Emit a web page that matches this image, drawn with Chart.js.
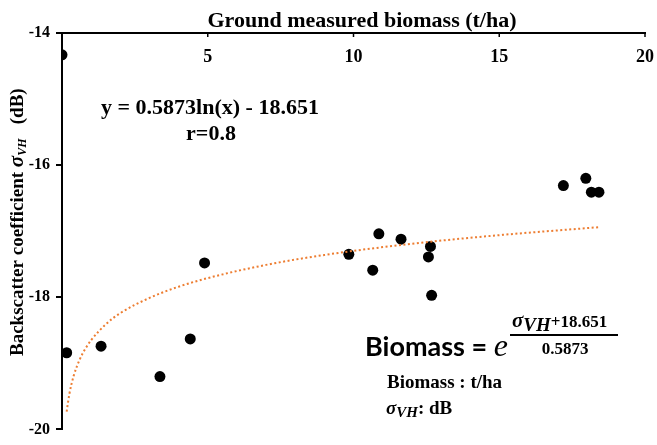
<!DOCTYPE html>
<html>
<head>
<meta charset="utf-8">
<script src="https://cdn.jsdelivr.net/npm/chart.js@4.4.0/dist/chart.umd.min.js"></script>
<style>
  html, body { margin: 0; padding: 0; background: #fff; }
  canvas { display: block; }
</style>
</head>
<body>
<canvas id="myChart" width="657" height="445"></canvas>
<script>
'use strict';

// ground measured biomass (t/ha) against backscatter sigma VH (dB)
let biomass = [0.0, 0.16, 1.34, 3.36, 4.40, 4.89, 9.84, 10.66, 10.87, 11.63, 12.57, 12.64, 12.68, 17.20, 17.97, 18.16, 18.42];
let sigma_vh = [-14.33, -18.84, -18.74, -19.20, -18.63, -17.48, -17.35, -17.59, -17.04, -17.12, -17.39, -17.23, -17.97, -16.31, -16.20, -16.41, -16.41];

// points read along the dotted log trendline
let trend_x = [0.16, 0.25, 0.4, 0.6, 0.8, 1, 1.5, 2, 3, 4, 5, 7, 9, 12, 15, 18.4];
let trend_y = [-19.73, -19.47, -19.19, -18.95, -18.78, -18.65, -18.41, -18.24, -18.01, -17.84, -17.71, -17.51, -17.36, -17.19, -17.06, -16.94];

let x_ticks = [5, 10, 15, 20];
let y_ticks = [-14, -16, -18, -20];

let x_title = 'Ground measured biomass (t/ha)';
let equation = 'y = 0.5873ln(x) - 18.651';
let r_text = 'r=0.8';

const SERIF = '"Liberation Serif", "Times New Roman", serif';

let scatter_pts = [];
for (let i = 0; i < biomass.length; i++) {
  scatter_pts.push({x: biomass[i], y: sigma_vh[i]});
}
let trend_pts = [];
for (let i = 0; i < trend_x.length; i++) {
  trend_pts.push({x: trend_x[i], y: trend_y[i]});
}

// draws pieces of text one after the other, returns the width
function draw_runs(ctx, runs, x, y, measureOnly) {
  let w = 0;
  for (let i = 0; i < runs.length; i++) {
    ctx.font = runs[i].f;
    if (!measureOnly) ctx.fillText(runs[i].t, x + w, y + (runs[i].dy || 0));
    w += ctx.measureText(runs[i].t).width;
  }
  return w;
}

let extras = {
  id: 'extras',
  afterDraw(chart) {
    let ctx = chart.ctx;
    let xs = chart.scales.x;
    let area = chart.chartArea;
    ctx.save();
    ctx.fillStyle = '#000';
    ctx.strokeStyle = '#000';

    // x title, a bit right of centre like the original
    ctx.font = 'bold 22px ' + SERIF;
    ctx.textAlign = 'center';
    ctx.textBaseline = 'alphabetic';
    ctx.fillText(x_title, 362, 27);

    // x tick labels sit under the top axis, inside the plot
    ctx.font = 'bold 18px ' + SERIF;
    ctx.textBaseline = 'middle';
    ctx.lineWidth = 1.5;
    x_ticks.forEach(v => {
      let px = xs.getPixelForValue(v);
      ctx.fillText(String(v), px, area.top + 24);
      ctx.beginPath();
      ctx.moveTo(px, area.top);
      ctx.lineTo(px, area.top + 4);
      ctx.stroke();
    });

    // y title with subscript
    ctx.save();
    ctx.translate(18, (area.top + area.bottom) / 2 - 9);
    ctx.rotate(-Math.PI / 2);
    ctx.textAlign = 'left';
    ctx.textBaseline = 'middle';
    let yt = [
      {t: 'Backscatter coefficient ', f: 'bold 19px ' + SERIF},
      {t: 'σ', f: 'italic bold 21px ' + SERIF},
      {t: 'VH', f: 'italic bold 12px ' + SERIF, dy: 5},
      {t: '   (dB)', f: 'bold 19px ' + SERIF}
    ];
    let tw = draw_runs(ctx, yt, 0, 0, true);
    draw_runs(ctx, yt, -tw / 2, 0, false);
    ctx.restore();

    // regression text
    ctx.textAlign = 'center';
    ctx.textBaseline = 'alphabetic';
    ctx.font = 'bold 22px ' + SERIF;
    ctx.fillText(equation, 210, 114);
    ctx.fillText(r_text, 211, 140);

    // inverse formula
    ctx.textAlign = 'left';
    ctx.font = 'bold 27px Lato, "Open Sans", sans-serif';
    ctx.fillText('Biomass = ', 365, 356);
    let bw = ctx.measureText('Biomass = ').width;
    ctx.font = 'italic 32px ' + SERIF;
    ctx.fillText('e', 365 + bw, 356);

    let num = [
      {t: 'σ', f: 'italic bold 21px ' + SERIF},
      {t: 'VH', f: 'italic bold 19px ' + SERIF, dy: 4},
      {t: '+18.651', f: 'bold 17px ' + SERIF}
    ];
    draw_runs(ctx, num, 512, 327, false);
    ctx.lineWidth = 2;
    ctx.beginPath();
    ctx.moveTo(510, 335);
    ctx.lineTo(618, 335);
    ctx.stroke();
    ctx.font = 'bold 17px ' + SERIF;
    ctx.textAlign = 'center';
    ctx.fillText('0.5873', 565, 354);

    ctx.textAlign = 'left';
    ctx.font = 'bold 19px ' + SERIF;
    ctx.fillText('Biomass : t/ha', 387, 388);
    let unit = [
      {t: 'σ', f: 'italic bold 19px ' + SERIF},
      {t: 'VH', f: 'italic bold 15px ' + SERIF, dy: 3},
      {t: ': dB', f: 'bold 19px ' + SERIF}
    ];
    draw_runs(ctx, unit, 386, 414, false);
    ctx.restore();
  }
};

let ctx = document.getElementById('myChart').getContext('2d');
let myChart = new Chart(ctx, {
  type: 'scatter',
  data: {
    datasets: [{
      label: 'measured',
      data: scatter_pts,
      backgroundColor: '#000',
      borderColor: '#000',
      pointRadius: 5.5,
      pointHoverRadius: 5.5,
      borderWidth: 0,
      order: 1
    }, {
      label: 'trend',
      data: trend_pts,
      showLine: true,
      pointRadius: 0,
      borderColor: '#ED7D31',
      borderWidth: 2,
      borderDash: [2, 2.5],
      cubicInterpolationMode: 'monotone',
      order: 0
    }]
  },
  options: {
    responsive: false,
    animation: false,
    events: [],
    layout: {padding: {left: 0, top: 0, right: 12, bottom: 13}},
    plugins: {
      legend: {display: false},
      tooltip: {enabled: false}
    },
    scales: {
      x: {
        type: 'linear',
        position: 'top',
        min: 0,
        max: 20,
        grid: {display: false, drawTicks: false},
        border: {display: true, color: '#000', width: 2},
        ticks: {display: false},
        title: {display: false},
        afterFit: (s) => { s.height = 33; }
      },
      y: {
        type: 'linear',
        min: -20,
        max: -14,
        afterBuildTicks: (s) => { s.ticks = y_ticks.map(v => ({value: v})); },
        grid: {display: true, drawOnChartArea: false, drawTicks: true, tickLength: 6, color: '#000', lineWidth: 2},
        border: {display: true, color: '#000', width: 2},
        ticks: {
          color: '#000',
          padding: 6,
          font: {family: SERIF, size: 16, weight: 'bold'}
        },
        afterFit: (s) => { s.width = 62; }
      }
    }
  },
  plugins: [extras]
});
</script>
</body>
</html>
